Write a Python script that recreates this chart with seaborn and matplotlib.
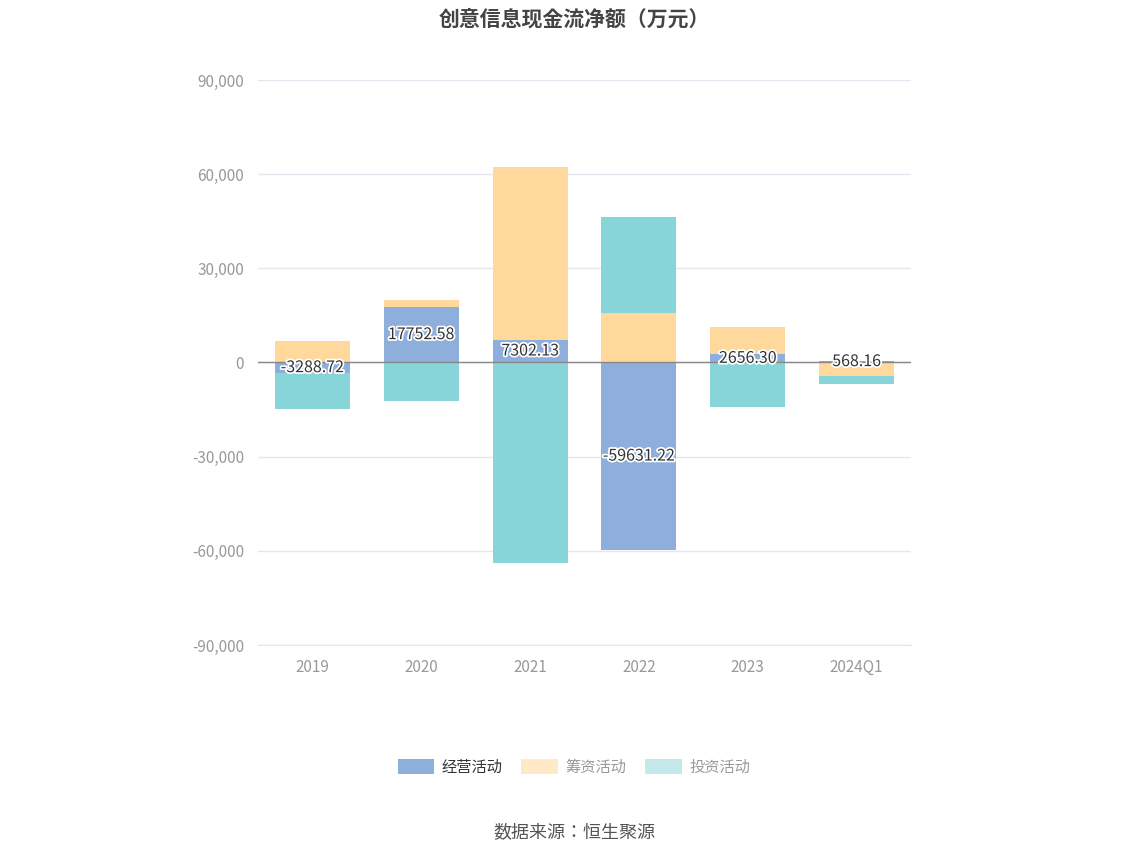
import numpy as np
import pandas as pd
import seaborn as sns
from matplotlib import pyplot as plt
from matplotlib.patches import Patch
import matplotlib.patheffects as pe

plt.rcParams['font.family'] = ['Noto Sans CJK SC', 'Noto Sans CJK JP', 'Noto Sans CJK TC',
                               'Noto Sans CJK KR', 'DejaVu Sans']

years = ['2019', '2020', '2021', '2022', '2023', '2024Q1']
operating = [-3288.72, 17752.58, 7302.13, -59631.22, 2656.30, 568.16]
financing = [7000, 2300, 55100, 15900, 8500, -4400]
investing = [-11400, -12400, -64000, 30300, -14300, -2600]

c_op, c_fin, c_inv = '#8eaedb', '#ffd99b', '#88d5d9'

f = plt.figure(figsize=(11.48, 8.59), dpi=100)
ax = f.add_axes([0.2247, 0.2491, 0.5689, 0.6578])

df = pd.DataFrame({'year': years, 'v': operating})
sns.barplot(data=df, x='year', y='v', color=c_op, saturation=1, width=0.69, ax=ax, zorder=2)

pos = np.maximum(operating, 0).astype(float)
neg = np.minimum(operating, 0).astype(float)
x = np.arange(len(years))
for vals, col in [(financing, c_fin), (investing, c_inv)]:
    vals = np.array(vals, dtype=float)
    bottom = np.where(vals >= 0, pos, neg)
    ax.bar(x, vals, bottom=bottom, width=0.69, color=col, zorder=2)
    pos = pos + np.maximum(vals, 0)
    neg = neg + np.minimum(vals, 0)

for i, v in enumerate(operating):
    ax.text(i, v / 2, f'{v:.2f}', ha='center', va='center',
            fontsize=11.5, color='#333333', zorder=5,
            path_effects=[pe.withStroke(linewidth=2.5, foreground='white')])

ax.set_ylim(-90000, 90000)
ax.set_xlim(-0.5, 5.5)
ax.set_yticks(np.arange(-90000, 90001, 30000))
ax.set_yticklabels([f'{t:,}' for t in range(-90000, 90001, 30000)])
ax.grid(axis='y', color='#e6e6f0', linewidth=1, zorder=0)
ax.axhline(0, color='#888888', linewidth=1, zorder=3)
for s in ['top', 'right', 'left']:
    ax.spines[s].set_visible(False)
ax.spines['bottom'].set_color('#e6e6f0')
ax.tick_params(axis='both', length=0, labelsize=11, colors='#999999', pad=10)
ax.set_xlabel('')
ax.set_ylabel('')

f.text(0.5, 0.978, '创意信息现金流净额（万元）', ha='center', va='center',
       fontsize=15, fontweight='bold', color='#444444')
handles = [Patch(facecolor=c_op, label='经营活动'),
           Patch(facecolor='#ffe9c7', label='筹资活动'),
           Patch(facecolor='#c3e9eb', label='投资活动')]
leg = f.legend(handles=handles, loc='center', bbox_to_anchor=(0.5, 0.107), ncol=3,
               frameon=False, fontsize=11, handlelength=2.4, handleheight=1.2,
               columnspacing=1.2, handletextpad=0.5)
for t, c in zip(leg.get_texts(), ['#333333', '#999999', '#999999']):
    t.set_color(c)
f.text(0.5, 0.031, '数据来源：恒生聚源', ha='center', va='center', fontsize=13, color='#555555')

f.savefig('out.png')
